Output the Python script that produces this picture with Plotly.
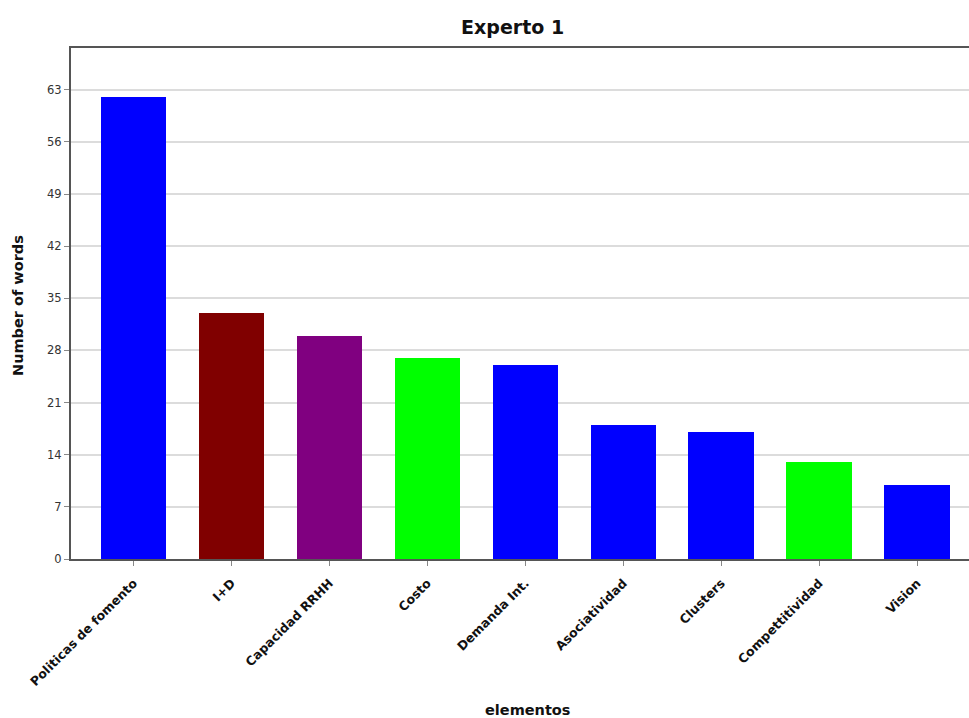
import plotly.graph_objects as go

# Word counts per element for Experto 1
categories = ["Politicas de fomento", "I+D", "Capacidad RRHH", "Costo", "Demanda Int.",
              "Asociatividad", "Clusters", "Compettitividad", "Vision"]
words = [62, 33, 30, 27, 26, 18, 17, 13, 10]
bar_colors = ["#0000FF", "#800000", "#800080", "#00FF00", "#0000FF",
              "#0000FF", "#0000FF", "#00FF00", "#0000FF"]
y_ticks = [0, 7, 14, 21, 28, 35, 42, 49, 56, 63]

FONT = "DejaVu Sans"

fig = go.Figure(
    go.Bar(
        x=list(range(len(categories))),
        y=words,
        marker=dict(color=bar_colors, line=dict(width=0)),
        width=0.67,
    )
)

fig.update_layout(
    width=969,
    height=718,
    margin=dict(l=71, r=0, t=48, b=159),
    paper_bgcolor="white",
    plot_bgcolor="white",
    showlegend=False,
    title=dict(
        text="<b>Experto 1</b>",
        x=0.529, xanchor="center",
        y=1 - 27 / 718, yanchor="middle",
        font=dict(family=FONT, size=19, color="#111"),
    ),
    bargap=0,
)

fig.update_xaxes(
    range=[-0.64, 8.53],
    tickmode="array",
    tickvals=list(range(len(categories))),
    ticktext=[f"<b>{c}</b>" for c in categories],
    tickangle=-45,
    tickfont=dict(family=FONT, size=12.5, color="#111"),
    ticks="outside", ticklen=5, tickcolor="#888", tickwidth=1,
    ticklabelstandoff=5,
    showline=True, linecolor="#555", linewidth=2, mirror=True,
    showgrid=False, zeroline=False,
)

fig.update_yaxes(
    range=[0, 68.6],
    tickmode="array",
    tickvals=y_ticks,
    tickfont=dict(family=FONT, size=11.5, color="#333"),
    ticks="outside", ticklen=5, tickcolor="#888", tickwidth=1,
    showline=True, linecolor="#555", linewidth=2,
    showgrid=True, gridcolor="#dcdcdc", gridwidth=2,
    zeroline=False,
)

# Axis titles
fig.add_annotation(
    text="<b>elementos</b>", xref="paper", yref="paper",
    x=(527 - 71) / 898, y=(559 - 710) / 511,
    xanchor="center", yanchor="middle", showarrow=False,
    font=dict(family=FONT, size=14.5, color="#111"),
)
fig.add_annotation(
    text="<b>Number of words</b>", xref="paper", yref="paper",
    x=(18 - 71) / 898, y=(559 - 306) / 511,
    xanchor="center", yanchor="middle", showarrow=False, textangle=-90,
    font=dict(family=FONT, size=14.5, color="#111"),
)

fig.write_html("out.html")
